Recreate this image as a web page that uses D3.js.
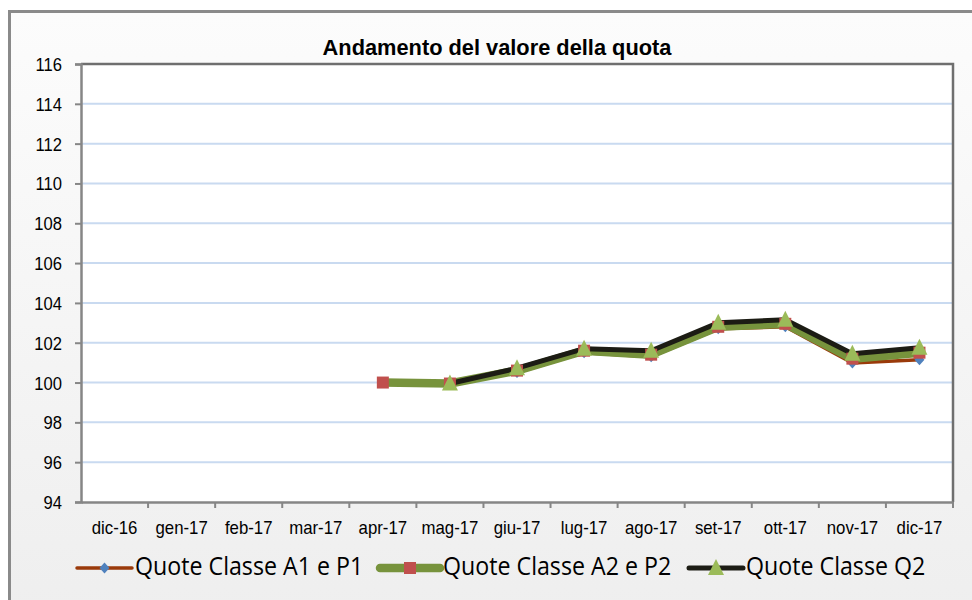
<!DOCTYPE html>
<html>
<head>
<meta charset="utf-8">
<script src="https://cdn.jsdelivr.net/npm/d3@7"></script>
<style>
  body { margin: 0; background: #ffffff; }
  svg { display: block; }
</style>
</head>
<body>
<div id="chart"></div>
<script>
(function () {
  'use strict';

  // data
  const months = ['dic-16', 'gen-17', 'feb-17', 'mar-17', 'apr-17', 'mag-17', 'giu-17',
    'lug-17', 'ago-17', 'set-17', 'ott-17', 'nov-17', 'dic-17'];
  const quoteA1 = [null, null, null, null, 100.0, 99.93, 100.5, 101.5, 101.3, 102.7, 102.8, 100.98, 101.15];
  const quoteA2 = [null, null, null, null, 100.0, 99.95, 100.6, 101.6, 101.4, 102.8, 102.95, 101.2, 101.5];
  const quoteQ2 = [null, null, null, null, null, 99.95, 100.72, 101.7, 101.6, 103.0, 103.15, 101.45, 101.75];
  const yTicks = [94, 96, 98, 100, 102, 104, 106, 108, 110, 112, 114, 116];

  const series = [
    { name: 'Quote Classe A1 e P1', values: quoteA1, line: '#9a3a0a', width: 3.5, marker: 'diamond', fill: '#4f81bd' },
    { name: 'Quote Classe A2 e P2', values: quoteA2, line: '#77933c', width: 8.5, marker: 'square', fill: '#c0504d' },
    { name: 'Quote Classe Q2', values: quoteQ2, line: '#1c1c14', width: 5, marker: 'triangle', fill: '#9bbb59' }
  ];

  const width = 972, height = 600;
  const plot = { left: 81, top: 64, right: 953, bottom: 502 };
  const axisFont = 'Arial, "Liberation Sans", sans-serif';

  const svg = d3.select('#chart')
    .append('svg')
    .attr('width', width)
    .attr('height', height)
    .style('font-family', axisFont);

  // chart area background with a soft gradient
  const grad = svg.append('defs').append('linearGradient')
    .attr('id', 'bg').attr('x1', 0).attr('y1', 0).attr('x2', 0).attr('y2', 1);
  grad.append('stop').attr('offset', '0%').attr('stop-color', '#fcfcfc');
  grad.append('stop').attr('offset', '100%').attr('stop-color', '#eeeeee');

  svg.append('rect')
    .attr('x', 9.5).attr('y', 11.5)
    .attr('width', 980).attr('height', 620)
    .attr('fill', 'url(#bg)')
    .attr('stroke', '#8a8a8a')
    .attr('stroke-width', 3);

  const x = d3.scaleBand()
    .domain(months)
    .range([plot.left, plot.right]);

  const y = d3.scaleLinear()
    .domain([94, 116])
    .range([plot.bottom, plot.top]);

  // plot area
  svg.append('rect')
    .attr('x', plot.left).attr('y', plot.top)
    .attr('width', plot.right - plot.left)
    .attr('height', plot.bottom - plot.top)
    .attr('fill', '#ffffff');

  // gridlines
  svg.append('g')
    .selectAll('line')
    .data(yTicks.filter(d => d > 94 && d < 116))
    .join('line')
    .attr('x1', plot.left).attr('x2', plot.right)
    .attr('y1', d => y(d)).attr('y2', d => y(d))
    .attr('stroke', '#c9daf0')
    .attr('stroke-width', 2);

  // top and right border of plot area
  svg.append('path')
    .attr('d', `M${plot.left},${plot.top}H${plot.right}V${plot.bottom}`)
    .attr('fill', 'none')
    .attr('stroke', '#6f6f6f')
    .attr('stroke-width', 2.5);

  // y axis
  const yAxis = svg.append('g')
    .attr('transform', `translate(${plot.left},0)`)
    .call(d3.axisLeft(y).tickValues(yTicks).tickSize(6).tickPadding(13).tickFormat(d3.format('d')));
  yAxis.select('.domain').attr('stroke', '#868686').attr('stroke-width', 2.5);
  yAxis.selectAll('.tick line').attr('stroke', '#868686').attr('stroke-width', 2);
  // labels drawn slightly taller than wide, as in the original
  yAxis.selectAll('.tick text')
    .attr('fill', '#000')
    .attr('dy', null)
    .attr('y', 0)
    .attr('transform', 'translate(0,6.5) scale(1,1.1)')
    .style('font-size', '16.6px')
    .style('font-family', axisFont);

  // x axis with ticks between categories
  const xAxis = svg.append('g')
    .attr('transform', `translate(0,${plot.bottom})`)
    .call(d3.axisBottom(x).tickSize(0).tickPadding(0));
  xAxis.select('.domain').attr('stroke', '#868686').attr('stroke-width', 2.5);
  xAxis.selectAll('.tick text')
    .attr('fill', '#000')
    .attr('dy', null)
    .attr('y', 0)
    .attr('transform', 'translate(0,32) scale(1,1.12)')
    .style('font-size', '16.8px')
    .style('font-family', axisFont);
  xAxis.append('g')
    .selectAll('line')
    .data(months.slice(1).concat(['end']))
    .join('line')
    .attr('x1', (d, i) => plot.left + x.step() * (i + 1))
    .attr('x2', (d, i) => plot.left + x.step() * (i + 1))
    .attr('y1', 0).attr('y2', 6)
    .attr('stroke', '#868686')
    .attr('stroke-width', 2);

  // title
  svg.append('text')
    .attr('x', 497).attr('y', 55)
    .attr('text-anchor', 'middle')
    .style('font-size', '21.8px')
    .style('font-weight', 'bold')
    .text('Andamento del valore della quota');

  const cx = d => x(d) + x.bandwidth() / 2;

  const line = d3.line()
    .defined(d => d.v !== null)
    .x(d => cx(d.m))
    .y(d => y(d.v));

  // marker shapes, centred on 0,0
  const symbolFor = {
    diamond: () => 'M0,-5.5L5,0L0,5.5L-5,0Z',
    square: () => 'M-6,-6H6V6H-6Z',
    triangle: () => 'M0,-9L8,7H-8Z'
  };

  series.forEach(s => {
    const pts = months.map((m, i) => ({ m: m, v: s.values[i] }));
    svg.append('path')
      .datum(pts)
      .attr('d', line)
      .attr('fill', 'none')
      .attr('stroke', s.line)
      .attr('stroke-width', s.width)
      .attr('stroke-linejoin', 'round');
  });

  series.forEach(s => {
    const pts = months.map((m, i) => ({ m: m, v: s.values[i] })).filter(d => d.v !== null);
    svg.append('g')
      .selectAll('path')
      .data(pts)
      .join('path')
      .attr('d', symbolFor[s.marker])
      .attr('transform', d => `translate(${cx(d.m)},${y(d.v)})`)
      .attr('fill', s.fill);
  });

  // legend
  const legendX = [77, 380, 689];
  const legendLen = [55, 60, 54];
  const legendY = 568;
  const legend = svg.append('g')
    .selectAll('g')
    .data(series)
    .join('g')
    .attr('transform', (d, i) => `translate(${legendX[i]},${legendY})`);

  legend.append('line')
    .attr('x1', 0).attr('x2', (d, i) => legendLen[i])
    .attr('y1', 0).attr('y2', 0)
    .attr('stroke', d => d.line)
    .attr('stroke-width', d => d.width)
    .attr('stroke-linecap', 'round');

  legend.append('path')
    .attr('d', d => symbolFor[d.marker]())
    .attr('transform', (d, i) => `translate(${legendLen[i] / 2},0)`)
    .attr('fill', d => d.fill);

  legend.append('text')
    .attr('x', 0)
    .attr('y', 0)
    .attr('transform', (d, i) => `translate(${legendLen[i] + 3},7) scale(1,1.07)`)
    .style('font-family', '"Open Sans", "Noto Sans", sans-serif')
    .style('font-size', '23.2px')
    .attr('fill', '#000')
    .text(d => d.name);
})();
</script>
</body>
</html>
